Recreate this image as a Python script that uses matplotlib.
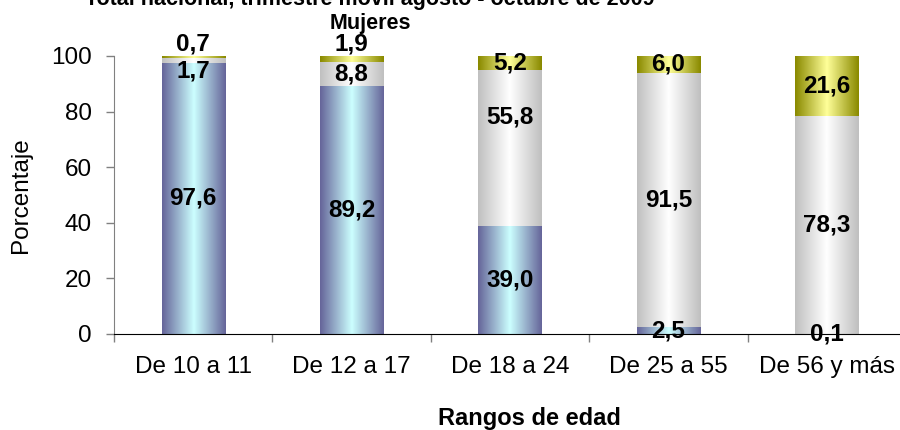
import matplotlib
matplotlib.use("Agg")
import matplotlib.pyplot as plt
import numpy as np
from matplotlib.colors import to_rgb

# age groups and shares (%) per condition
rangos = ["De 10 a 11", "De 12 a 17", "De 18 a 24", "De 25 a 55", "De 56 y más"]
serie_azul = [97.6, 89.2, 39.0, 2.5, 0.1]
serie_gris = [1.7, 8.8, 55.8, 91.5, 78.3]
serie_oliva = [0.7, 1.9, 5.2, 6.0, 21.6]
yticks = [0, 20, 40, 60, 80, 100]

titulo1 = "Total nacional, trimestre móvil agosto - octubre de 2009"
titulo2 = "Mujeres"

plt.rcParams['font.family'] = ['Liberation Sans', 'DejaVu Sans']
narrow = ['Liberation Sans Narrow', 'Liberation Sans', 'DejaVu Sans']

# gradient colours: (edge, centre)
gradientes = [("#66669a", "#ccffff"), ("#c0c0c0", "#ffffff"), ("#8a8a00", "#ffff99")]


def gradient_img(edge, centre, n=64):
    e = np.array(to_rgb(edge))
    c = np.array(to_rgb(centre))
    t = 1 - np.abs(np.linspace(-1, 1, n))
    return (e[None, :] * (1 - t[:, None]) + c[None, :] * t[:, None])[None, :, :]


fig = plt.figure(figsize=(9, 4.3), dpi=100)
ax = fig.add_axes([114 / 900, 96 / 430, 792 / 900, 278 / 430])

x = np.arange(len(rangos))
width = 0.40
series = [serie_azul, serie_gris, serie_oliva]
bottom = np.zeros(len(rangos))

# manual nudges (data units) like dragged labels in the original
nudge = {(1, 2): 11}

for si, vals in enumerate(series):
    vals = np.array(vals)
    bars = ax.bar(x, vals, width, bottom=bottom, color='none', edgecolor='none')
    img = gradient_img(*gradientes[si])
    for i, rect in enumerate(bars):
        x0, y0 = rect.get_x(), rect.get_y()
        w, h = rect.get_width(), rect.get_height()
        ax.imshow(img, extent=[x0, x0 + w, y0, y0 + h], aspect='auto',
                  interpolation='bilinear', zorder=2)
        label = f"{vals[i]:.1f}".replace(".", ",")
        yc = y0 + h / 2
        va = 'center'
        if si == 2 and h < 3:
            yc = 100
            va = 'bottom'
        elif si == 1 and h < 3:
            yc = y0 - 3
        yc += nudge.get((si, i), 0)
        if va == 'bottom':
            ax.annotate(label, (x0 + w / 2, yc), xytext=(0, 0),
                        textcoords='offset points', ha='center', va='bottom',
                        fontsize=17.5, fontweight='bold', zorder=5,
                        annotation_clip=False)
        else:
            ax.text(x0 + w / 2, yc, label, ha='center', va='center',
                    fontsize=17.5, fontweight='bold', zorder=5)
    bottom = bottom + vals

ax.set_xlim(-0.5, len(rangos) - 0.5)
ax.set_ylim(0, 100)
ax.set_yticks(yticks)
ax.set_yticklabels([str(v) for v in yticks])
ax.set_xticks(x)
ax.set_xticklabels(rangos)
ax.set_xticks(np.arange(len(rangos) + 1) - 0.5, minor=True)

ax.tick_params(axis='x', which='major', length=0, pad=16, labelsize=17.5)
ax.tick_params(axis='x', which='minor', length=5.8, width=1, color='#808080',
               direction='out')
ax.tick_params(axis='y', length=5.8, width=1, color='#808080', pad=10,
               labelsize=17.5)

for s in ['top', 'right']:
    ax.spines[s].set_visible(False)
ax.spines['left'].set_color('#808080')
ax.spines['bottom'].set_color('black')
ax.spines['left'].set_zorder(3)
ax.spines['bottom'].set_zorder(4)

fig.text(21 / 900, 235 / 430, "Porcentaje", rotation=90, ha='center',
         va='center', fontsize=17.5)
fig.text(529.5 / 900, 5 / 430, "Rangos de edad", ha='center', va='baseline',
         fontsize=17, fontweight='bold')
fig.text(370 / 900, 425 / 430, titulo1, ha='center', va='baseline',
         fontsize=15.5, fontweight='bold', family=narrow)
fig.text(370 / 900, 401 / 430, titulo2, ha='center', va='baseline',
         fontsize=15.5, fontweight='bold', family=narrow)

fig.savefig("out.png", dpi=100)
